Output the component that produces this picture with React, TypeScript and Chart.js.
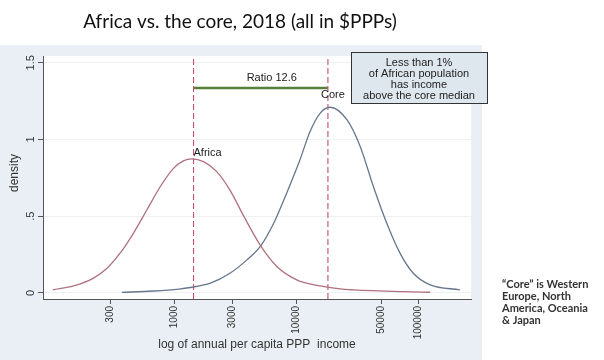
import React, { useEffect, useRef } from "react";
import { Chart, registerables } from "chart.js";

Chart.register(...registerables);

// ---- data ----
const TITLE = "Africa vs. the core, 2018 (all in $PPPs)";
const X_TITLE = "log of annual per capita PPP  income";
const Y_TITLE = "density";
const X_TICKS = [300, 1000, 3000, 10000, 50000, 100000];
const Y_TICKS = [0, 0.5, 1, 1.5];
const Y_TICK_LABELS = ["0", ".5", "1", "1.5"];

const africaIncome = [101, 150, 218, 281, 361, 464, 596, 765, 982, 1188, 1395, 1737, 2231, 2864, 3715, 5117, 6974, 10097, 15677, 22925, 29437, 75357, 125470];
const africaDensity = [0.02, 0.045, 0.096, 0.16, 0.26, 0.39, 0.54, 0.69, 0.81, 0.86, 0.873, 0.855, 0.79, 0.67, 0.5, 0.306, 0.17, 0.085, 0.045, 0.026, 0.02, 0.008, 0.004];

const coreIncome = [372, 665, 1097, 1353, 1978, 2864, 3944, 5117, 6503, 8350, 10721, 12965, 15677, 18958, 26108, 33523, 43045, 55270, 70969, 91126, 125470, 219696];
const coreDensity = [0.003, 0.012, 0.025, 0.035, 0.063, 0.128, 0.215, 0.306, 0.45, 0.65, 0.866, 1.05, 1.17, 1.21, 1.127, 0.953, 0.69, 0.454, 0.259, 0.128, 0.052, 0.02];

const AFRICA_MEDIAN = 1440;
const CORE_MEDIAN = 18200;
const RATIO_Y = 1.335;
const RATIO_LABEL = "Ratio 12.6";
const BOX_LINES = ["Less than 1%", "of African population", "has income", "above the core median"];
const NOTE_LINES = ["\u201cCore\u201d is Western", "Europe, North", "America, Oceania", "& Japan"];

const X_MIN = 84;
const X_MAX = 271000;
const Y_MIN = -0.04;
const Y_MAX = 1.544;

const AXIS_FONT = "'Liberation Sans', Arial, sans-serif";

const decor = {
  id: "decor",
  beforeDraw(chart: any) {
    const { ctx, chartArea: a } = chart;
    ctx.save();
    ctx.fillStyle = "#ffffff";
    ctx.fillRect(0, 0, chart.width, chart.height);
    ctx.fillStyle = "#e9eff4";
    ctx.fillRect(0, 45, 482, chart.height - 45);
    ctx.fillStyle = "#ffffff";
    ctx.fillRect(a.left, a.top, a.right - a.left, a.bottom - a.top);
    ctx.restore();
  },
  afterDraw(chart: any) {
    const { ctx } = chart;
    const xs = chart.scales.x;
    const ys = chart.scales.y;
    ctx.save();
    // title
    ctx.fillStyle = "#111";
    ctx.font = "19px Lato, 'Open Sans', sans-serif";
    ctx.textAlign = "center";
    ctx.textBaseline = "middle";
    ctx.fillText(TITLE, 240, 22);

    // y tick labels (rotated)
    ctx.fillStyle = "#333";
    ctx.font = `11px ${AXIS_FONT}`;
    Y_TICKS.forEach((v, i) => {
      const y = ys.getPixelForValue(v);
      ctx.save();
      ctx.translate(31, y);
      ctx.rotate(-Math.PI / 2);
      ctx.textAlign = "center";
      ctx.textBaseline = "middle";
      ctx.fillText(Y_TICK_LABELS[i], 0, 0);
      ctx.restore();
    });
    // y title
    ctx.save();
    ctx.translate(15, 173);
    ctx.rotate(-Math.PI / 2);
    ctx.font = `12px ${AXIS_FONT}`;
    ctx.textAlign = "center";
    ctx.textBaseline = "middle";
    ctx.fillText(Y_TITLE, 0, 0);
    ctx.restore();
    // x title
    ctx.font = `12px ${AXIS_FONT}`;
    ctx.textAlign = "center";
    ctx.textBaseline = "middle";
    ctx.fillText(X_TITLE, 257, 345);

    // annotations
    const xA = xs.getPixelForValue(AFRICA_MEDIAN);
    const xC = xs.getPixelForValue(CORE_MEDIAN);
    const yR = ys.getPixelForValue(RATIO_Y);
    ctx.fillStyle = "#222";
    ctx.font = `11px ${AXIS_FONT}`;
    ctx.textAlign = "center";
    ctx.textBaseline = "middle";
    ctx.fillText(RATIO_LABEL, (xA + xC) / 2 + 11, yR - 10);
    ctx.fillText("Core", xC + 5, yR + 7);
    ctx.textAlign = "left";
    ctx.fillText("Africa", xA, ys.getPixelForValue(0.912));

    // box
    const bx = 351, by = 52, bw = 136, bh = 51;
    ctx.fillStyle = "#dfe7ee";
    ctx.fillRect(bx, by, bw, bh);
    ctx.strokeStyle = "#333";
    ctx.lineWidth = 1;
    ctx.strokeRect(bx + 0.5, by + 0.5, bw, bh);
    ctx.fillStyle = "#222";
    ctx.textAlign = "center";
    const lineYs = [63, 74, 85, 96];
    BOX_LINES.forEach((t, i) => ctx.fillText(t, bx + bw / 2, lineYs[i]));

    // side note
    ctx.fillStyle = "#333";
    ctx.font = "bold 11px Lato, 'Open Sans', sans-serif";
    ctx.textAlign = "left";
    NOTE_LINES.forEach((t, i) => ctx.fillText(t, 502, 284 + i * 12));
    ctx.restore();
  },
};

export default function App() {
  const ref = useRef<HTMLCanvasElement | null>(null);
  useEffect(() => {
    document.body.style.margin = "0";
    if (!ref.current) return;
    const africa = africaIncome.map((x, i) => ({ x, y: africaDensity[i] }));
    const core = coreIncome.map((x, i) => ({ x, y: coreDensity[i] }));
    const chart = new Chart(ref.current, {
      type: "line",
      data: {
        datasets: [
          { label: "Africa", data: africa, borderColor: "#b0707e", borderWidth: 1.3, pointRadius: 0, tension: 0.4, cubicInterpolationMode: "monotone", fill: false },
          { label: "Core", data: core, borderColor: "#66778c", borderWidth: 1.3, pointRadius: 0, tension: 0.4, cubicInterpolationMode: "monotone", fill: false },
          { label: "Africa median", data: [{ x: AFRICA_MEDIAN, y: Y_MIN }, { x: AFRICA_MEDIAN, y: Y_MAX }], borderColor: "#c2506c", borderWidth: 1.1, borderDash: [6, 3], pointRadius: 0 },
          { label: "Core median", data: [{ x: CORE_MEDIAN, y: Y_MIN }, { x: CORE_MEDIAN, y: Y_MAX }], borderColor: "#c2506c", borderWidth: 1.1, borderDash: [6, 3], pointRadius: 0 },
          { label: "Ratio", data: [{ x: AFRICA_MEDIAN, y: RATIO_Y }, { x: CORE_MEDIAN, y: RATIO_Y }], borderColor: "#56803a", borderWidth: 2.5, pointRadius: 0 },
        ],
      },
      options: {
        responsive: false,
        animation: false,
        layout: { padding: { left: 0, top: 56, right: 133, bottom: 0 } },
        plugins: { legend: { display: false }, tooltip: { enabled: false }, title: { display: false } },
        scales: {
          x: {
            type: "logarithmic",
            min: X_MIN,
            max: X_MAX,
            afterBuildTicks: (s: any) => { s.ticks = X_TICKS.map((v) => ({ value: v })); },
            afterFit: (s: any) => { s.height = 61; },
            ticks: {
              minRotation: 90,
              maxRotation: 90,
              autoSkip: false,
              padding: 2,
              color: "#333",
              font: { family: AXIS_FONT, size: 10 },
              callback: (v: any) => String(v),
            },
            grid: { drawOnChartArea: false, drawTicks: true, tickLength: 5, tickColor: "#555" },
            border: { color: "#555", width: 1 },
          },
          y: {
            type: "linear",
            min: Y_MIN,
            max: Y_MAX,
            afterBuildTicks: (s: any) => { s.ticks = Y_TICKS.map((v) => ({ value: v })); },
            afterFit: (s: any) => { s.width = 43; },
            ticks: { display: false },
            grid: { color: "#eef1f4", tickLength: 5, tickColor: "#555" },
            border: { color: "#555", width: 1 },
          },
        },
      },
      plugins: [decor],
    } as any);
    return () => chart.destroy();
  }, []);
  return (
    <div style={{ width: 604, height: 360 }}>
      <canvas ref={ref} width={604} height={360} style={{ display: "block" }} />
    </div>
  );
}
